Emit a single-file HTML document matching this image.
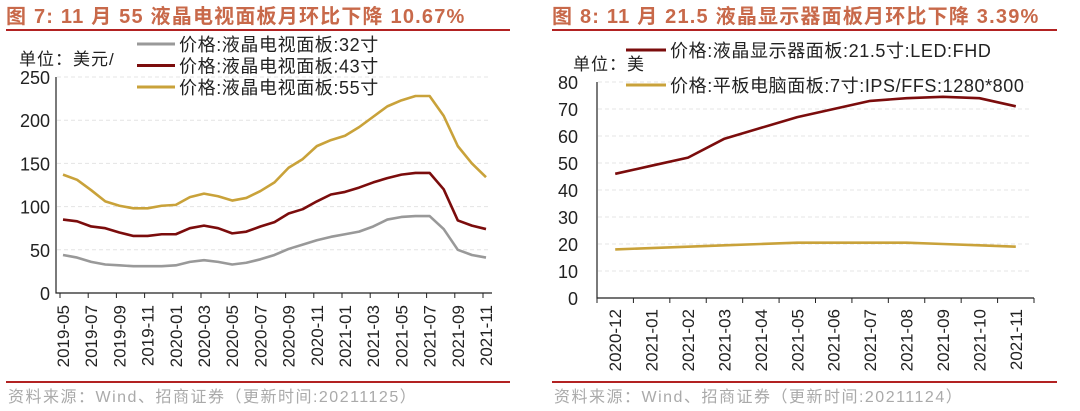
<!DOCTYPE html>
<html><head><meta charset="utf-8"><style>
html,body{margin:0;padding:0;background:#fff;}
svg{display:block;font-family:"Liberation Sans","Noto Sans CJK SC",sans-serif;}
</style></head><body>
<svg id="s" width="1080" height="411" xmlns="http://www.w3.org/2000/svg">
<g>
<text x="6" y="23" font-size="20" font-weight="bold" letter-spacing="1.2" fill="#c8694a">图 7:  11 月 55 液晶电视面板月环比下降 10.67%</text>
<line x1="6" y1="30" x2="510" y2="30" stroke="#b22222" stroke-width="2"/>
<line x1="6" y1="382" x2="510" y2="382" stroke="#b22222" stroke-width="2"/>
<text x="8" y="402" font-size="16" letter-spacing="1.5" fill="#aaa">资料来源：Wind、招商证券（更新时间:20211125）</text>
<text x="19" y="65" font-size="17" letter-spacing="1" fill="#222">单位：美元/</text>
<g id="L"></g>
</g>
<g>
<text x="552" y="23" font-size="20" font-weight="bold" letter-spacing="1.2" fill="#c8694a">图 8:  11 月 21.5 液晶显示器面板月环比下降 3.39%</text>
<line x1="552" y1="30" x2="1057" y2="30" stroke="#b22222" stroke-width="2"/>
<line x1="552" y1="382" x2="1057" y2="382" stroke="#b22222" stroke-width="2"/>
<text x="554" y="402" font-size="16" letter-spacing="1.5" fill="#aaa">资料来源：Wind、招商证券（更新时间:20211124）</text>
<text x="573" y="70" font-size="17" letter-spacing="1" fill="#222">单位：美</text>
<g id="R"></g>
</g>
</svg>
<script>
const leftCats=["2019-05","2019-06","2019-07","2019-08","2019-09","2019-10","2019-11","2019-12","2020-01","2020-02","2020-03","2020-04","2020-05","2020-06","2020-07","2020-08","2020-09","2020-10","2020-11","2020-12","2021-01","2021-02","2021-03","2021-04","2021-05","2021-06","2021-07","2021-08","2021-09","2021-10","2021-11"];
const tv32=[44,41,36,33,32,31,31,31,32,36,38,36,33,35,39,44,51,56,61,65,68,71,77,85,88,89,89,74,50,44,41];
const tv43=[85,83,77,75,70,66,66,68,68,75,78,75,69,71,77,82,92,97,106,114,117,122,128,133,137,139,139,120,84,78,74];
const tv55=[137,131,119,106,101,98,98,101,102,111,115,112,107,110,118,128,145,155,170,177,182,192,204,216,223,228,228,205,170,150,134];
const leftTicks=[0,50,100,150,200,250];
const leftNames=["价格:液晶电视面板:32寸","价格:液晶电视面板:43寸","价格:液晶电视面板:55寸"];
const rightCats=["2020-12","2021-01","2021-02","2021-03","2021-04","2021-05","2021-06","2021-07","2021-08","2021-09","2021-10","2021-11"];
const mon215=[46,49,52,59,63,67,70,73,74,74.5,74,71];
const tab7=[18,18.5,19,19.5,20,20.5,20.5,20.5,20.5,20,19.5,19];
const rightTicks=[0,10,20,30,40,50,60,70,80];
const rightNames=["价格:液晶显示器面板:21.5寸:LED:FHD","价格:平板电脑面板:7寸:IPS/FFS:1280*800"];
const NS="http://www.w3.org/2000/svg";
function mk(p,t,a,txt){const e=document.createElementNS(NS,t);for(const k in a)e.setAttribute(k,a[k]);if(txt!=null)e.textContent=txt;p.appendChild(e);return e;}
(function(){
const g=document.getElementById('L');
const y=v=>293-v*(216/250);
const x=i=>63+i*(423/30);
leftTicks.forEach(t=>{
 if(t>0){const gl=mk(g,'line',{x1:57,x2:490,y1:y(t),y2:y(t),stroke:'#e4e4e4','stroke-dasharray':'4,3'});
 }
 const tl=mk(g,'text',{x:50,y:y(t)+7,'font-size':18,'text-anchor':'end',fill:'#222'},t);
 
});
const ax=mk(g,'path',{d:`M56,${y(250)}V293H492`,stroke:'#222',fill:'none','stroke-width':1.2});

leftCats.forEach((c,i)=>{
 if(i%2)return;
 const tk=mk(g,'line',{x1:x(i)-3,x2:x(i)-3,y1:293,y2:298,stroke:'#222'});
 
 const tl=mk(g,'text',{transform:`translate(${x(i)+6},305) rotate(-90)`,'font-size':17,'text-anchor':'end',fill:'#222'},c);
 
});
const series=[[tv32,'#999999'],[tv43,'#7b0c0c'],[tv55,'#c9a23a']];
series.forEach(([d,c],k)=>{
 const p=mk(g,'polyline',{points:d.map((v,i)=>x(i)+','+y(v)).join(' '),fill:'none',stroke:c,'stroke-width':2.6,'stroke-linejoin':'round'});
 
 const ly=44+k*21.5;
 const ll=mk(g,'line',{x1:137,x2:175,y1:ly,y2:ly,stroke:c,'stroke-width':3});
 
 const lt=mk(g,'text',{x:179,y:ly+7,'font-size':18,'letter-spacing':0.6,fill:'#222'},leftNames[k]);
 
});
})();
(function(){
const g=document.getElementById('R');
const y=v=>298-v*(216/80);
const bw=(1034-597)/12;
const x=i=>597+bw*(i+0.5);
rightTicks.forEach(t=>{
 if(t>0){const gl=mk(g,'line',{x1:598,x2:1032,y1:y(t),y2:y(t),stroke:'#e4e4e4','stroke-dasharray':'4,3'});
 }
 const tl=mk(g,'text',{x:578,y:y(t)+7,'font-size':18,'text-anchor':'end',fill:'#222'},t);
 
});
const ax=mk(g,'path',{d:`M597,${y(80)}V298H1034`,stroke:'#222',fill:'none','stroke-width':1.2});

for(let i=0;i<=12;i++){const tk=mk(g,'line',{x1:597+bw*i,x2:597+bw*i,y1:298,y2:303,stroke:'#222'});
 }
rightCats.forEach((c,i)=>{
 const tl=mk(g,'text',{transform:`translate(${x(i)+6},309) rotate(-90)`,'font-size':17,'text-anchor':'end',fill:'#222'},c);
 
});
const series=[[mon215,'#7b0c0c'],[tab7,'#c9a23a']];
series.forEach(([d,c],k)=>{
 const p=mk(g,'polyline',{points:d.map((v,i)=>x(i)+','+y(v)).join(' '),fill:'none',stroke:c,'stroke-width':2.6,'stroke-linejoin':'round'});
 
 const ly=50+k*35;
 const ll=mk(g,'line',{x1:626,x2:666,y1:ly,y2:ly,stroke:c,'stroke-width':3});
 
 const lt=mk(g,'text',{x:670,y:ly+7,'font-size':18,'letter-spacing':0.6,fill:'#222'},rightNames[k]);
 
});
})();
</script>
</body></html>
